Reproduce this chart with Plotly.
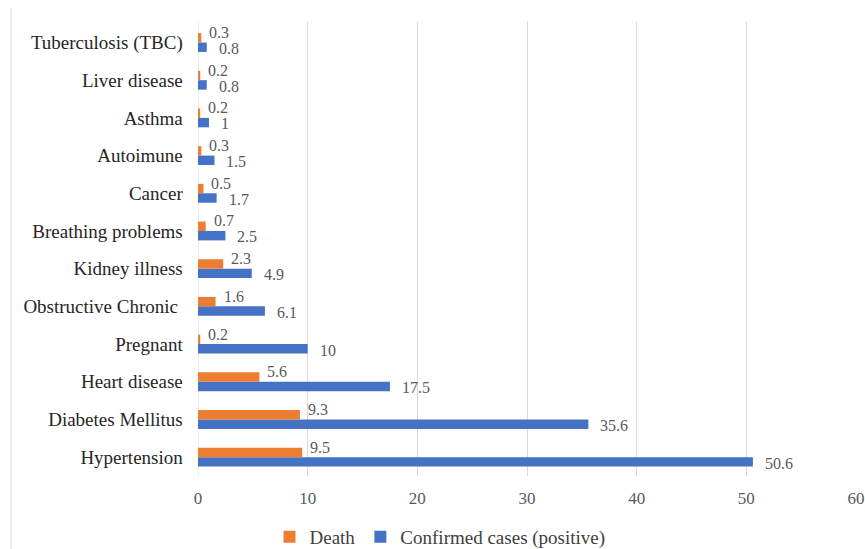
import plotly.graph_objects as go

# Comorbidities, listed from bottom to top of the chart
categories = [
    "Hypertension", "Diabetes Mellitus", "Heart disease", "Pregnant",
    "Obstructive Chronic ", "Kidney illness", "Breathing problems", "Cancer",
    "Autoimune", "Asthma", "Liver disease", "Tuberculosis (TBC)",
]
death = [9.5, 9.3, 5.6, 0.2, 1.6, 2.3, 0.7, 0.5, 0.3, 0.2, 0.2, 0.3]
confirmed = [50.6, 35.6, 17.5, 10, 6.1, 4.9, 2.5, 1.7, 1.5, 1, 0.8, 0.8]
x_ticks = [0, 10, 20, 30, 40, 50, 60]

FONT = "Liberation Serif"
ORANGE = "#ED7D31"
BLUE = "#4472C4"
LABEL_GRAY = "#595959"

W, H = 865, 549
M_L, M_R, M_T, M_B = 198, 9, 22, 73
plot_w = W - M_L - M_R
plot_h = H - M_T - M_B

fig = go.Figure()
fig.add_trace(go.Bar(
    y=categories, x=confirmed, orientation="h", name="Confirmed cases (positive)",
    marker=dict(color=BLUE, line=dict(width=0)),
))
fig.add_trace(go.Bar(
    y=categories, x=death, orientation="h", name="Death",
    marker=dict(color=ORANGE, line=dict(width=0)),
))

# value labels at the outer end of each bar
for cat, d, c in zip(categories, death, confirmed):
    fig.add_annotation(x=d, y=cat, xref="x", yref="y", text=f"{d:g}",
                       showarrow=False, xanchor="left", yanchor="middle",
                       xshift=6, yshift=10,
                       font=dict(family=FONT, size=16, color=LABEL_GRAY))
    fig.add_annotation(x=c, y=cat, xref="x", yref="y", text=f"{c:g}",
                       showarrow=False, xanchor="left", yanchor="middle",
                       xshift=10, yshift=-6,
                       font=dict(family=FONT, size=16, color=LABEL_GRAY))

# faint outer border on the left edge of the chart area
fig.add_shape(type="line", xref="paper", yref="paper",
              x0=(11 - M_L) / plot_w, x1=(11 - M_L) / plot_w,
              y0=-M_B / plot_h, y1=1 + (M_T - 8) / plot_h,
              line=dict(color="#d9d9d9", width=1))
fig.add_shape(type="line", xref="x", yref="paper", x0=0, x1=0, y0=0, y1=1,
              line=dict(color="#d9d9d9", width=1), layer="below")

fig.update_layout(
    width=W, height=H,
    margin=dict(l=M_L, r=M_R, t=M_T, b=M_B, autoexpand=False),
    paper_bgcolor="white", plot_bgcolor="white",
    barmode="group", bargap=0.5, bargroupgap=0,
    font=dict(family=FONT, size=16, color="#404040"),
    showlegend=True,
    legend=dict(
        orientation="h", traceorder="reversed",
        xref="container", yref="container",
        x=440 / W, xanchor="center",
        y=1 - 537 / H, yanchor="middle",
        font=dict(family=FONT, size=19, color="#404040"),
        itemwidth=30,
    ),
    xaxis=dict(
        range=[0, 60], tickvals=x_ticks, showgrid=True, gridcolor="#d9d9d9",
        gridwidth=1, zeroline=False, showline=False, ticks="",
        ticklabelstandoff=10,
        tickfont=dict(family=FONT, size=17, color=LABEL_GRAY),
    ),
    yaxis=dict(
        type="category", categoryorder="array", categoryarray=categories,
        showgrid=False, zeroline=False, showline=False, ticks="",
        ticksuffix="   ",
        tickfont=dict(family=FONT, size=19, color="#262626"),
    ),
)

fig.write_html("out.html")
